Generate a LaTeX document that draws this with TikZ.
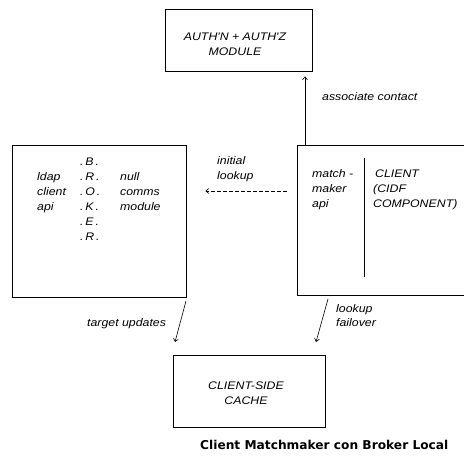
\documentclass[tikz,border=0pt]{standalone}
\usepackage{fontspec}
\setmainfont{Liberation Sans}
\newfontfamily\lblfont[FakeStretch=1.12]{Liberation Sans}
\newfontfamily\titlefont{DejaVu Sans}
\usetikzlibrary{arrows.meta}
\begin{document}
\begin{tikzpicture}[x=1pt,y=-1pt,
  lbl/.style={font=\lblfont\itshape\fontsize{11}{15}\selectfont, inner sep=0pt, anchor=base west},
  boxtext/.style={font=\lblfont\itshape\fontsize{11}{15}\selectfont, align=center, inner sep=0pt},
  box/.style={draw, line width=0.8pt, inner sep=0pt},
  arr/.style={-{Straight Barb[length=3pt,width=5pt]}, line width=0.6pt}]
\useasboundingbox (0,0) rectangle (464,457);
\clip (0,0) rectangle (464,457);
% boxes
\node[box, minimum width=147pt, minimum height=62pt] (auth) at (238.5,40) {};
\node[boxtext] (authtxt) at (235,44) {AUTH'N + AUTH'Z\\MODULE};
\node[box, minimum width=174pt, minimum height=152pt] (ldap) at (99,221) {};
\node[box, minimum width=180pt, minimum height=150pt] (client) at (387,220) {};
\node[box, minimum width=152pt, minimum height=72pt] (cache) at (249,391) {};
\node[boxtext] (cachetxt) at (246,393.5) {CLIENT-SIDE\\CACHE};
% divider inside client box
\draw[line width=0.6pt] (364,158) -- (364,277);
% left box texts
\node[lbl] (ldap1) at (37,181) {ldap};
\node[lbl] (ldap2) at (37,196) {client};
\node[lbl] (ldap3) at (37,211) {api};
\node[lbl] (b1) at (80,166) {.\,B\,.};
\node[lbl] (b2) at (80,181) {.\,R\,.};
\node[lbl] (b3) at (80,196) {.\,O\,.};
\node[lbl] (b4) at (80,211) {.\,K\,.};
\node[lbl] (b5) at (80,226) {.\,E\,.};
\node[lbl] (b6) at (80,241) {.\,R\,.};
\node[lbl] (n1) at (120,181) {null};
\node[lbl] (n2) at (120,196) {comms};
\node[lbl] (n3) at (120,211) {module};
% client box texts
\node[lbl] (m1) at (312,178) {match -};
\node[lbl] (m2) at (312,193) {maker};
\node[lbl] (m3) at (312,208) {api};
\node[lbl] (c1) at (375,178) {CLIENT};
\node[lbl] (c2) at (373,193) {(CIDF};
\node[lbl] (c3) at (373,208) {COMPONENT)};
% connector labels
\node[lbl] (assoc) at (322,101) {associate contact};
\node[lbl] (init1) at (217,165) {initial};
\node[lbl] (init2) at (217,180) {lookup};
\node[lbl] (tgt) at (87,327) {target updates};
\node[lbl] (lf1) at (336,313) {lookup};
\node[lbl] (lf2) at (336,327) {failover};
% connectors
\draw[arr, shorten >=5pt] (client.north -| 305,0) -- (auth.south -| 305,0);
\draw[arr, dash pattern=on 4pt off 2pt, shorten <=10pt, shorten >=19pt] (client.west |- 0,191) -- (ldap.east |- 0,191);
\coordinate (t1) at (186,301);
\coordinate (t2) at (175,342);
\draw[arr] (t1) -- (t2);
\coordinate (f1) at (328,299);
\coordinate (f2) at (316,342);
\draw[arr] (f1) -- (f2);
% title
\node[font=\titlefont\bfseries\fontsize{12.2}{14}\selectfont, inner sep=0pt, anchor=base west] (title) at (200,450) {Client Matchmaker con Broker Local};
\end{tikzpicture}
\end{document}
